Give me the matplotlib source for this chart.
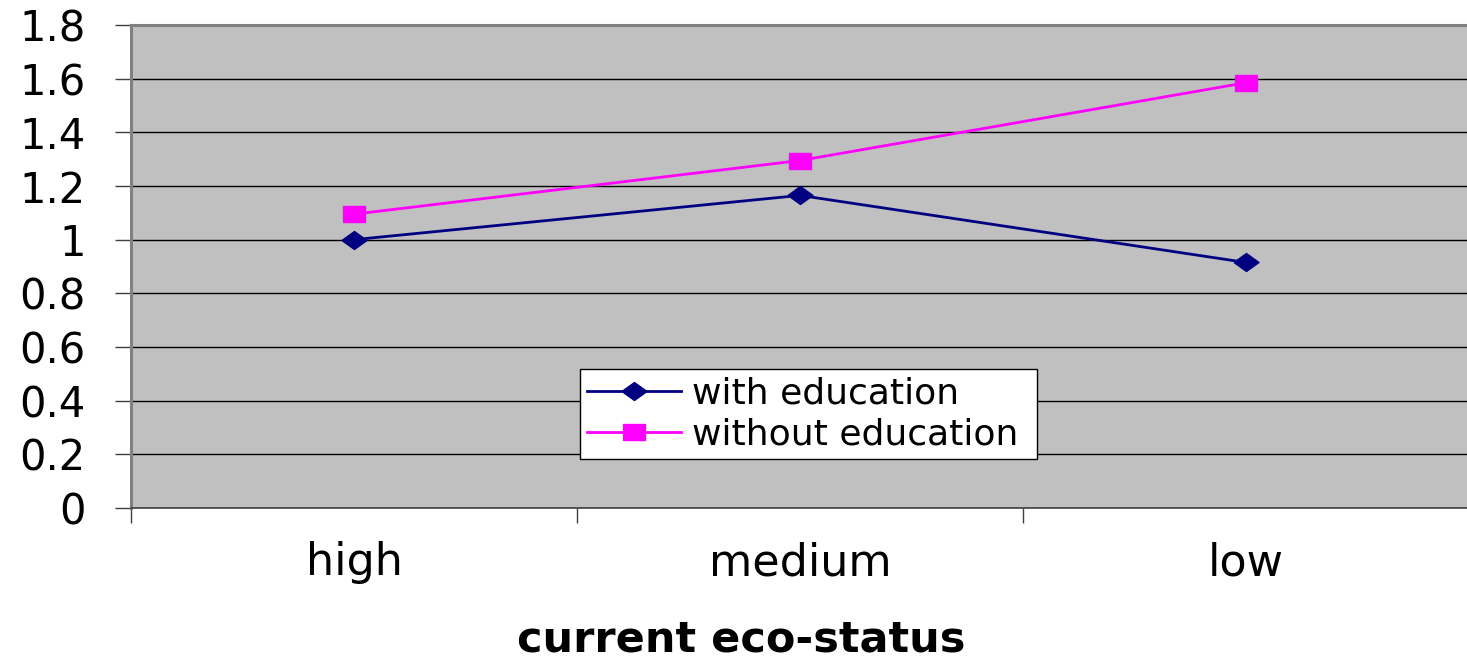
import matplotlib
matplotlib.use("Agg")
import matplotlib.pyplot as plt
import numpy as np

# data
categories = ["high", "medium", "low"]
with_education = [1.00, 1.165, 0.915]
without_education = [1.095, 1.295, 1.585]
y_ticks = [0, 0.2, 0.4, 0.6, 0.8, 1, 1.2, 1.4, 1.6, 1.8]
y_tick_labels = ["0", "0.2", "0.4", "0.6", "0.8", "1", "1.2", "1.4", "1.6", "1.8"]

# wide sans font, the reference text is stretched sideways
plt.rcParams['font.family'] = ['DejaVu Sans']

# flat diamond and flat square like the Excel markers
flat_diamond = [(-1, 0), (0, 0.72), (1, 0), (0, -0.72), (-1, 0)]
flat_square = [(-1, -0.7), (1, -0.7), (1, 0.7), (-1, 0.7), (-1, -0.7)]

fig = plt.figure(figsize=(14.67, 6.63), dpi=100)
ax = fig.add_axes([131 / 1467, 155 / 663, 1338 / 1467, 483 / 663])
ax.set_facecolor('#C0C0C0')

x = np.arange(len(categories))
ax.plot(x, with_education, color='#000080', linewidth=2.0, marker=flat_diamond,
        markersize=18, label='with education', zorder=3)
ax.plot(x, without_education, color='#FF00FF', linewidth=2.0, marker=flat_square,
        markersize=15.5, label='without education', zorder=3)

ax.set_xlim(-0.5, 2.5)
ax.set_ylim(0, 1.8)

# gridlines
ax.set_yticks(y_ticks)
ax.set_yticklabels(y_tick_labels, fontsize=30)
ax.yaxis.grid(True, color='#000000', linewidth=1.0)
ax.set_axisbelow(True)
ax.tick_params(axis='y', length=11.5, width=1, color='#404040', pad=21)

# category labels in the middle, tick marks on the boundaries
ax.set_xticks(x)
ax.set_xticklabels(categories, fontsize=32)
ax.set_xticks([-0.5, 0.5, 1.5, 2.5], minor=True)
ax.tick_params(axis='x', which='major', length=0, pad=24)
ax.tick_params(axis='x', which='minor', length=11, width=1, color='#404040')

for side in ['left', 'top']:
    ax.spines[side].set_color('#808080')
    ax.spines[side].set_linewidth(2.2)
ax.spines['bottom'].set_color('#404040')
ax.spines['bottom'].set_linewidth(1.2)
ax.spines['right'].set_visible(False)

leg = ax.legend(loc='upper left', bbox_to_anchor=(0.3356, 0.1035, 0.3416, 0.1843),
                mode='expand', fontsize=26, fancybox=False, framealpha=1,
                edgecolor='#000000', handlelength=2.6, handletextpad=0.3,
                labelspacing=0.2, borderpad=0.2, borderaxespad=0)
leg.get_frame().set_linewidth(1)

fig.text(741 / 1467, 1 - 651 / 663, 'current eco-status', fontsize=31,
         fontweight='bold', ha='center', va='baseline')

fig.savefig('out.png', dpi=100)
